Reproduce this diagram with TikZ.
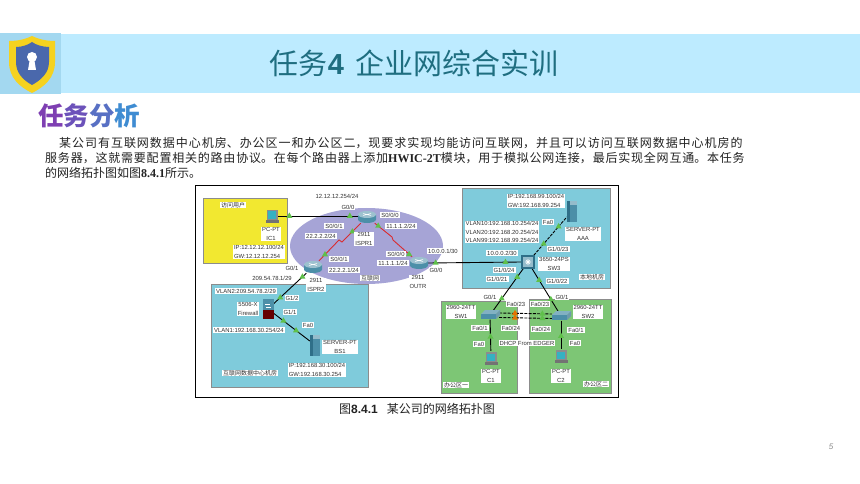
\documentclass[tikz,border=0pt]{standalone}
\usepackage{fontspec}
\usetikzlibrary{shapes.geometric}
\setmainfont{Noto Sans CJK SC}
\newfontfamily\latfont{Liberation Sans}
\newfontfamily\serfont{Liberation Serif}
\newfontfamily\cjkfont{Noto Sans CJK SC}
\XeTeXlinebreaklocale "zh"
\XeTeXlinebreakskip=0pt plus 2pt
\definecolor{banner}{HTML}{BDEBFF}
\definecolor{titlecol}{HTML}{1F6E80}
\definecolor{iconbg}{HTML}{A3D8F0}
\definecolor{gold}{HTML}{F5D21F}
\definecolor{shieldblue}{HTML}{4A68AC}
\definecolor{zoneyellow}{HTML}{F2E830}
\definecolor{zonecyan}{HTML}{7FCBDB}
\definecolor{zonegreen}{HTML}{7DC675}
\definecolor{cloudcol}{HTML}{A6A4D6}
\definecolor{linkred}{HTML}{D92B30}
\definecolor{tricol}{HTML}{5FC04A}
\definecolor{devteal}{HTML}{4C8FA8}
\definecolor{devdark}{HTML}{2F6F88}
\definecolor{bodytext}{HTML}{222222}
\tikzset{
 lab/.style={fill=white,inner xsep=1pt,inner ysep=0.6pt,font=\latfont\fontsize{5.9}{8.6}\selectfont,text=black!80,align=center},
 labl/.style={lab,align=left},
 cjklab/.style={lab,font=\cjkfont\fontsize{6}{7}\selectfont},
 zone/.style={draw=black!45,line width=0.6pt},
 blk/.style={draw=black,line width=0.9pt},
 redl/.style={draw=linkred,line width=0.9pt},
 dsh/.style={draw=black,line width=0.9pt,dashed,dash pattern=on 3pt off 1.2pt},
 tri/.style={regular polygon,regular polygon sides=3,fill=tricol,inner sep=0pt,minimum size=7pt},
 tro/.style={tri,fill=orange!90!black},
 anchorbox/.style={inner sep=0pt,minimum width=#1},
 routerpic/.pic={
  \fill[devteal] (-9,-2.5) -- (-9,2.5) arc[start angle=180,end angle=0,x radius=9,y radius=3.5] -- (9,-2.5) -- cycle;
  \fill[devteal!55!white] (0,-2.5) ellipse[x radius=9,y radius=3.5];
  \draw[white,line width=0.5pt] (-4,-3.5) -- (4,-1.5) (-4,-1.5) -- (4,-3.5);
 },
 pcpic/.pic={
  \fill[black!45] (-5.5,-6) rectangle (5.5,4);
  \fill[devteal!70!cyan] (-4,-4.5) rectangle (4,2.5);
  \fill[black!55] (-6.5,4) rectangle (6.5,7);
 },
 serverpic/.pic={
  \fill[devteal] (-5,-10) rectangle (5,11);
  \fill[devdark] (-5,-10) rectangle (-2,11);
  \fill[devteal!60!white] (-2,-10) rectangle (5,-6);
 },
 swpic/.pic={
  \fill[devteal!70!white] (-9,-1) -- (-5,-5) -- (10,-5) -- (6,-1) -- cycle;
  \fill[devteal] (-9,-1) rectangle (6,4);
  \fill[devdark!70] (6,-1) -- (10,-5) -- (10,0) -- (6,4) -- cycle;
 },
 corepic/.pic={
  \fill[devdark] (-7,-7) rectangle (7,7);
  \fill[devteal!60!white] (-5,-5) rectangle (5,5);
  \draw[white,line width=0.6pt] (-3,0) -- (3,0) (0,-3) -- (0,3) (-2,-2) -- (2,2) (-2,2) -- (2,-2);
 },
 fwpic/.pic={
  \fill[devteal] (-5.5,-10) rectangle (5.5,1);
  \fill[black!60!red] (-5.5,1) rectangle (5.5,10);
  \draw[white,line width=0.6pt] (-3,-5) -- (2,-5) (-2,-2) -- (3,-2);
 },
}
\newcounter{lc}
\newcommand\lbl[4][lab]{\stepcounter{lc}\node[#1] (t\thelc) at (#2,#3) {#4};}
\begin{document}
\begin{tikzpicture}[x=1pt,y=-1pt]
\useasboundingbox (0,0) rectangle (860,484);
\fill[white] (0,0) rectangle (860,484);
% banner
\fill[banner] (61,34) rectangle (860,93);
\fill[iconbg] (0,33) rectangle (61,94);
\fill[gold] (9,41) .. controls (18,41) and (26,39) .. (32,36) .. controls (38,39) and (46,41) .. (55,41) -- (55,62) .. controls (55,78) and (44,87) .. (32,93) .. controls (20,87) and (9,78) .. (9,62) -- cycle;
\fill[shieldblue] (16,47) .. controls (22,47) and (28,45) .. (32,42) .. controls (36,45) and (43,47) .. (49,47) -- (49,62) .. controls (49,73) and (41,80) .. (32,85) .. controls (23,80) and (16,73) .. (16,62) -- cycle;
\fill[white] (32,57) circle[radius=5];
\fill[white] (30,58) -- (34,58) -- (36,70) -- (28,70) -- cycle;
\node[font=\cjkfont\fontsize{29}{32}\selectfont,text=titlecol,inner sep=0pt] (title) at (414,63) {任务{\latfont\bfseries 4}\hspace{11pt}企业网综合实训};
\node[font=\cjkfont\bfseries\fontsize{25.5}{28}\selectfont,inner sep=0pt] (head) at (89,116) {\textcolor[HTML]{7E3FB2}{任}\textcolor[HTML]{6C52BA}{务}\textcolor[HTML]{5870C4}{分}\textcolor[HTML]{3F8CD2}{析}};
% body
\node[anchor=north west,inner sep=0pt,text width=709pt,font=\cjkfont\fontsize{12}{14.6}\selectfont,text=bodytext] (body) at (45,137.5) {\leavevmode\hspace{14pt}某公司有互联网数据中心机房、办公区一和办公区二，现要求实现均能访问互联网，并且可以访问互联网数据中心机房的\linebreak 服务器，这就需要配置相关的路由协议。在每个路由器上添加{\serfont\bfseries HWIC-2T}模块，用于模拟公网连接，最后实现全网互通。本任务\linebreak 的网络拓扑图如图{\serfont\bfseries 8.4.1}所示。};
% frame and zones
\draw[black,line width=0.9pt] (195.5,185.5) rectangle (618.5,397);
\path[fill=zoneyellow,zone] (203,198) rectangle (287,263);
\path[fill=zonecyan,zone] (211,284) rectangle (368,387);
\path[fill=zonecyan,zone] (462,188) rectangle (610,288);
\path[fill=zonegreen,zone] (441,301) rectangle (517,393);
\path[fill=zonegreen,zone] (529,299) rectangle (611,393);
\fill[cloudcol] (366.5,246) ellipse[x radius=76.5,y radius=38];
% device anchors
\node[anchorbox=18pt,minimum height=12pt] (ispr1) at (367,217) {};
\node[anchorbox=18pt,minimum height=12pt] (ispr2) at (313,267) {};
\node[anchorbox=18pt,minimum height=12pt] (outr) at (419,263) {};
\node[anchorbox=12pt,minimum height=14pt] (ic1) at (272,216) {};
\node[anchorbox=12pt,minimum height=14pt] (c1) at (491,358) {};
\node[anchorbox=12pt,minimum height=14pt] (c2) at (561,356) {};
\node[anchorbox=10pt,minimum height=20pt] (aaa) at (572,211) {};
\node[anchorbox=10pt,minimum height=20pt] (bs1) at (315,345) {};
\node[anchorbox=13pt,minimum height=13pt] (sw3) at (528,262) {};
\node[anchorbox=18pt,minimum height=9pt] (sw1) at (490,315) {};
\node[anchorbox=18pt,minimum height=9pt] (sw2) at (561,316) {};
\node[anchorbox=11pt,minimum height=20pt] (fw) at (268,309) {};
% links
\draw[blk] (ic1.east) -- node[tri,pos=0.14]{} node[tri,pos=0.9]{} (ic1.east -| ispr1.west);
\coordinate (k1a) at (342,242); \coordinate (k1b) at (339,240);
\draw[redl] (ispr1) -- node[tri,pos=0.45]{} (k1a) -- (k1b) -- node[tri,pos=0.7]{} (ispr2);
\coordinate (k2a) at (393,240); \coordinate (k2b) at (392,237);
\draw[redl] (ispr1) -- node[tri,pos=0.2]{} (k2b) -- (k2a) -- node[tri,pos=0.85]{} (outr);
\draw[blk] (outr.east) -- node[tri,pos=0.08]{} node[tri,pos=0.83]{} (sw3.west);
\draw[blk] (ispr2) -- node[tri,pos=0.12]{} node[tri,pos=0.8]{} (fw);
\draw[blk] (fw) -- node[tri,pos=0.27]{} node[tri,pos=0.62]{} (bs1);
\draw[dsh] (sw3) -- node[tri,pos=0.3]{} node[tri,pos=0.75]{} (aaa);
\draw[blk] (sw3) -- node[tri,pos=0.2]{} node[tri,pos=0.72]{} (sw1);
\draw[blk] (sw3) -- node[tri,pos=0.27]{} node[tri,pos=0.72]{} (sw2);
\draw[dsh] ([yshift=-2.5pt]sw1.east) -- node[tro,pos=0.3]{} node[tri,pos=0.82]{} ([yshift=-2.5pt]sw2.west);
\draw[dsh] ([yshift=2pt]sw1.east) -- node[tro,pos=0.3]{} node[tri,pos=0.82]{} ([yshift=2pt]sw2.west);
\draw[blk] (sw1) -- node[tri,pos=0.55]{} (c1);
\draw[blk] (sw2) -- node[tri,pos=0.55]{} (c2);
% icons
\path (367,217) pic {routerpic} (313,267) pic {routerpic} (419,263) pic {routerpic};
\path (272,216) pic {pcpic} (491,358) pic {pcpic} (561,356) pic {pcpic};
\path (572,211) pic {serverpic} (315,345) pic {serverpic};
\path (528,262) pic {corepic} (490,315) pic {swpic} (561,316) pic {swpic} (268,309) pic {fwpic};
% labels
\lbl{337}{196}{12.12.12.254/24}
\lbl{348}{207}{G0/0}
\lbl[cjklab]{233}{205}{访问用户}
\lbl{271}{234}{PC-PT\\IC1}
\lbl[labl]{259}{252}{IP:12.12.12.100/24\\GW:12.12.12.254}
\lbl{334}{226}{S0/0/1}
\lbl{321}{236}{22.2.2.2/24}
\lbl{390}{215}{S0/0/0}
\lbl{401}{226}{11.1.1.2/24}
\lbl{364}{239}{2911\\ISPR1}
\lbl{339}{259}{S0/0/1}
\lbl{344}{270}{22.2.2.1/24}
\lbl{396}{254}{S0/0/0}
\lbl{393}{263}{11.1.1.1/24}
\lbl{443}{251}{10.0.0.1/30}
\lbl{436}{270}{G0/0}
\lbl[cjklab]{370}{278}{互联网}
\lbl{418}{282}{2911\\OUTR}
\lbl{292}{268}{G0/1}
\lbl{272}{278}{209.54.78.1/29}
\lbl{316}{285}{2911\\ISPR2}
\lbl{246}{291}{VLAN2:209.54.78.2/29}
\lbl{248}{309}{5506-X\\Firewall}
\lbl{292}{298}{G1/2}
\lbl{290}{312}{G1/1}
\lbl{308}{325}{Fa0}
\lbl{249}{330}{VLAN1:192.168.30.254/24}
\lbl{340}{347}{SERVER-PT\\BS1}
\lbl[labl]{317}{370}{IP:192.168.30.100/24\\GW:192.168.30.254}
\lbl[cjklab]{250}{373}{互联网数据中心机房}
\lbl[labl]{536}{201}{IP:192.168.99.100/24\\GW:192.168.99.254}
\lbl{548}{222}{Fa0}
\lbl{583}{234}{SERVER-PT\\AAA}
\lbl[labl]{502}{232}{VLAN10:192.168.10.254/24\\VLAN20:192.168.20.254/24\\VLAN99:192.168.99.254/24}
\lbl{558}{249}{G1/0/23}
\lbl{554}{264}{3650-24PS\\SW3}
\lbl{502}{253}{10.0.0.2/30}
\lbl{504}{270}{G1/0/24}
\lbl{497}{279}{G1/0/21}
\lbl{557}{281}{G1/0/22}
\lbl[cjklab]{592}{277}{本地机房}
\lbl{490}{297}{G0/1}
\lbl{516}{304}{Fa0/23}
\lbl{540}{304}{Fa0/23}
\lbl{562}{297}{G0/1}
\lbl{461}{312}{2960-24TT\\SW1}
\lbl{588}{312}{2960-24TT\\SW2}
\lbl{480}{328}{Fa0/1}
\lbl{511}{328}{Fa0/24}
\lbl{541}{329}{Fa0/24}
\lbl{576}{330}{Fa0/1}
\lbl{479}{344}{Fa0}
\lbl{527}{343}{DHCP From EDGER}
\lbl{575}{343}{Fa0}
\lbl{491}{376}{PC-PT\\C1}
\lbl{561}{376}{PC-PT\\C2}
\lbl[cjklab]{456}{385}{办公区一}
\lbl[cjklab]{596}{384}{办公区二}
% caption
\node[font=\cjkfont\fontsize{12}{14}\selectfont,text=bodytext,inner sep=0pt] (cap) at (417,409) {图{\latfont\bfseries 8.4.1}\hspace{9pt}某公司的网络拓扑图};
\node[font=\latfont\itshape\fontsize{8}{9}\selectfont,text=black!45,inner sep=0pt] (pg) at (831,447) {5};
\end{tikzpicture}
\end{document}
